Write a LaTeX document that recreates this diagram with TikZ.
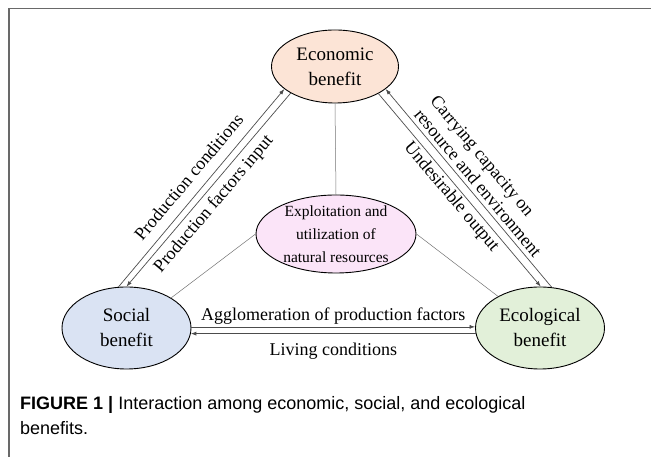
\documentclass[tikz,border=0pt]{standalone}
\usepackage{fontspec}
\setmainfont{Liberation Serif}
\newfontfamily\capfont{Liberation Sans}
\usetikzlibrary{shapes.geometric,arrows.meta}

\definecolor{econfill}{RGB}{252,228,214}
\definecolor{socfill}{RGB}{218,227,243}
\definecolor{ecofill}{RGB}{226,240,217}
\definecolor{resfill}{RGB}{251,228,248}
\definecolor{framegray}{RGB}{105,105,105}

\tikzset{
    benefit/.style={ellipse, draw, line width=0.9pt, minimum width=129pt, minimum height=82pt,
        inner sep=0pt, align=center, font=\fontsize{19}{25}\selectfont},
    flow/.style={-{Latex[length=5.5pt,width=4pt]}, draw=black!70, line width=0.7pt},
    backflow/.style={{Latex[length=5.5pt,width=4pt]}-, draw=black!70, line width=0.7pt},
    tie/.style={draw=black!55, line width=0.5pt},
    lab/.style={font=\fontsize{18}{21}\selectfont, inner sep=1pt, align=center},
}

\begin{document}
\begin{tikzpicture}[x=1pt, y=1pt]
    \useasboundingbox (0,0) rectangle (651,457);

    % Draw the frame round the figure
    \draw[framegray, line width=1.6pt] (9,0) -- (9,448.5) -- (651,448.5);

    % Draw the three benefits
    \node[benefit, fill=econfill, minimum width=127pt, minimum height=73pt] (econ) at (335,390.5) {Economic\\benefit};
    \node[benefit, fill=socfill] (social) at (126.5,129) {Social\\benefit};
    \node[benefit, fill=ecofill] (ecol) at (540,129) {Ecological\\benefit};

    % Draw the resources in the middle
    \node[ellipse, draw, line width=0.9pt, fill=resfill, minimum width=160pt, minimum height=78pt,
        inner xsep=0pt, inner ysep=-8pt, align=center, font=\fontsize{15.5}{23}\selectfont]
        (res) at (336,223) {Exploitation and\\utilization of\\natural resources};

    % Tie the resources to each benefit
    \draw[tie] (res.north) -- (econ.south);
    \draw[tie] (res.west) -- (social.34);
    \draw[tie] (res.east) -- (ecol.143);

    % Draw the flows on the left
    \draw[flow] (social.101) -- node[lab, sloped, above=9pt] {Production conditions} (econ.204);
    \draw[backflow] (social.90) -- node[lab, sloped, below=4pt, pos=0.47] {Production factors input} (econ.211);

    % Draw the flows on the right
    \draw[flow] (econ.328) -- node[lab, sloped, below=1.5pt] {Undesirable output} (ecol.89);
    \draw[backflow] (econ.336) -- node[lab, sloped, above=3pt, pos=0.508, align=left] {Carrying capacity on\\resource and environment} (ecol.74);

    % Draw the flows along the bottom
    \draw[flow] (social.1) -- node[lab, above=1pt] {Agglomeration of production factors} (ecol.179);
    \draw[backflow] (social.355) -- node[lab, below=8pt] {Living conditions} (ecol.185);

    % Caption
    \node[anchor=base west, inner sep=0pt, font=\capfont\fontsize{18}{25}\selectfont] (cap1) at (20,47)
        {\textbf{FIGURE 1 |} Interaction among economic, social, and ecological};
    \node[anchor=base west, inner sep=0pt, font=\capfont\fontsize{18}{25}\selectfont] (cap2) at (20,22)
        {benefits.};
\end{tikzpicture}
\end{document}
